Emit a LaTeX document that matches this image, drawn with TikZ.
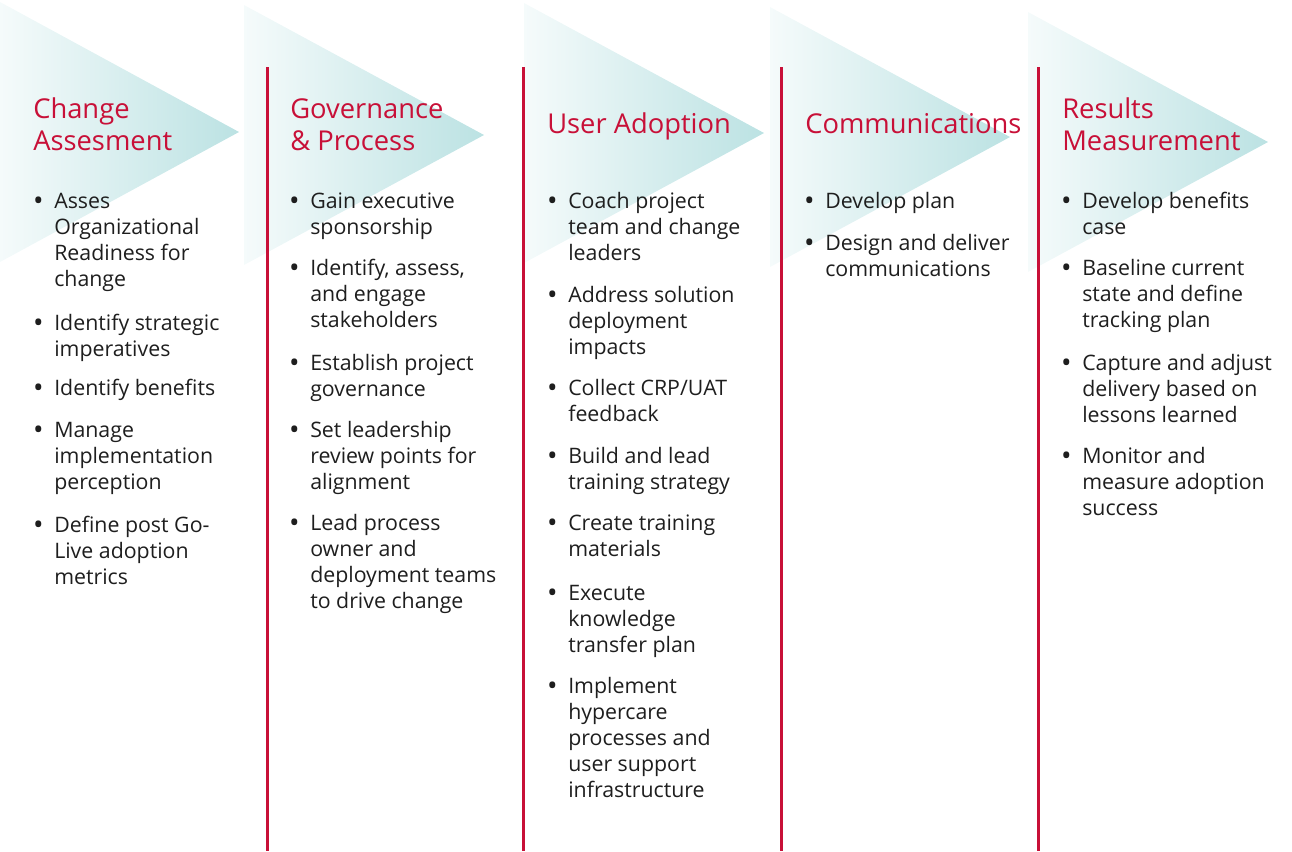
\documentclass[tikz,border=0pt]{standalone}
\usepackage{fontspec}
\setmainfont{Open Sans}
\definecolor{crimson}{RGB}{200,16,56}
\definecolor{bodytext}{RGB}{30,30,30}
\definecolor{tealc}{RGB}{176,221,222}
% left-to-right fade used by the arrow-head triangles
\pgfdeclarehorizontalshading{chevronfade}{100bp}{color(0bp)=(white); color(22bp)=(white!92!tealc); color(85bp)=(tealc); color(100bp)=(tealc)}
% bullet hung in the left margin; the strut fixes the height of the first line
\newcommand\bul{\strut\llap{\raisebox{-1.6pt}{\fontsize{21}{0}\selectfont\textbullet}\hspace{8pt}}}
\begin{document}
\begin{tikzpicture}[x=0.75pt,y=-0.75pt,
  heading/.style={anchor=north west, yshift=16.8pt, inner sep=0pt, align=left,
    text=crimson, font=\fontsize{20.5}{24}\selectfont},
  item/.style={anchor=north west, yshift=13.65pt, inner sep=0pt, align=left,
    text=bodytext, font=\fontsize{16}{19.5}\selectfont},
  divider/.style={draw=crimson, line width=2.25pt},
  chevron/.style={shading=chevronfade}]
\useasboundingbox (0,0) rectangle (1292,851);

% faded triangles behind the headings
\shade[chevron] (0,2) -- (239,132) -- (0,262) -- cycle;
\shade[chevron] (244,5) -- (484,135) -- (244,265) -- cycle;
\shade[chevron] (524,3) -- (764,133) -- (524,263) -- cycle;
\shade[chevron] (770,7) -- (1010,137) -- (770,267) -- cycle;
\shade[chevron] (1028,12) -- (1268,142) -- (1028,272) -- cycle;

% column dividers
\coordinate (d1t) at (267,67);  \coordinate (d1b) at (267,851);
\coordinate (d2t) at (523,67);  \coordinate (d2b) at (523,851);
\coordinate (d3t) at (781,67);  \coordinate (d3b) at (781,851);
\coordinate (d4t) at (1038,67); \coordinate (d4b) at (1038,851);
\draw[divider] (d1t) -- (d1b);
\draw[divider] (d2t) -- (d2b);
\draw[divider] (d3t) -- (d3b);
\draw[divider] (d4t) -- (d4b);

% headings (positions are first-line baselines)
\node[heading] (h1) at (33,118)   {\strut Change\\Assesment};
\node[heading] (h2) at (290,118)  {\strut Governance\\\& Process};
\node[heading] (h3) at (547,133)  {\strut User Adoption};
\node[heading] (h4) at (805,133)  {\strut Communications};
\node[heading] (h5) at (1062,118) {\strut Results\\Measurement};

% column 1
\node[item] (a1) at (54,208) {\bul Asses\\Organizational\\Readiness for\\change};
\node[item] (a2) at (54,330) {\bul Identify strategic\\imperatives};
\node[item] (a3) at (54,395) {\bul Identify benefits};
\node[item] (a4) at (54,437) {\bul Manage\\implementation\\perception};
\node[item] (a5) at (54,532) {\bul Define post Go-\\Live adoption\\metrics};

% column 2
\node[item] (b1) at (310,208) {\bul Gain executive\\sponsorship};
\node[item] (b2) at (310,275) {\bul Identify, assess,\\and engage\\stakeholders};
\node[item] (b3) at (310,370) {\bul Establish project\\governance};
\node[item] (b4) at (310,437) {\bul Set leadership\\review points for\\alignment};
\node[item] (b5) at (310,530) {\bul Lead process\\owner and\\deployment teams\\to drive change};

% column 3
\node[item] (c1) at (568,208) {\bul Coach project\\team and change\\leaders};
\node[item] (c2) at (568,302) {\bul Address solution\\deployment\\impacts};
\node[item] (c3) at (568,395) {\bul Collect CRP/UAT\\feedback};
\node[item] (c4) at (568,463) {\bul Build and lead\\training strategy};
\node[item] (c5) at (568,530) {\bul Create training\\materials};
\node[item] (c6) at (568,600) {\bul Execute\\knowledge\\transfer plan};
\node[item] (c7) at (568,693) {\bul Implement\\hypercare\\processes and\\user support\\infrastructure};

% column 4
\node[item] (e1) at (825,208) {\bul Develop plan};
\node[item] (e2) at (825,250) {\bul Design and deliver\\communications};

% column 5
\node[item] (f1) at (1082,208) {\bul Develop benefits\\case};
\node[item] (f2) at (1082,275) {\bul Baseline current\\state and define\\tracking plan};
\node[item] (f3) at (1082,370) {\bul Capture and adjust\\delivery based on\\lessons learned};
\node[item] (f4) at (1082,463) {\bul Monitor and\\measure adoption\\success};
\end{tikzpicture}
\end{document}
